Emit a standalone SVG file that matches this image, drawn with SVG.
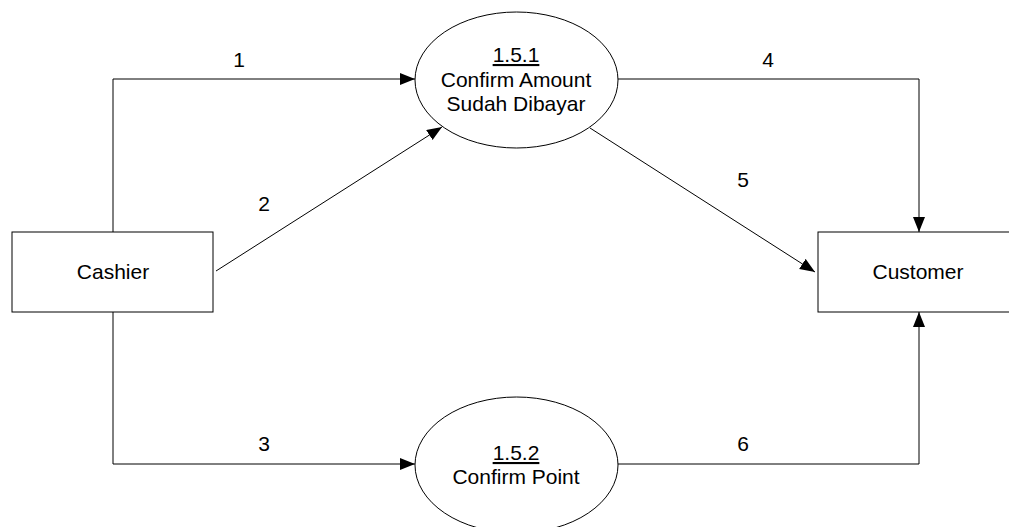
<svg xmlns="http://www.w3.org/2000/svg" width="1009" height="527" viewBox="0 0 1009 527">
<style>
.shape{fill:#fff;stroke:#000;stroke-width:1}
.conn{fill:none;stroke:#000;stroke-width:1}
text{font-family:"Liberation Sans",Arial,sans-serif;font-size:21px;fill:#000;text-anchor:middle}
.ul{text-decoration:underline}
</style>
<defs>
<marker id="arr" markerUnits="userSpaceOnUse" markerWidth="16" markerHeight="13" refX="15" refY="6" orient="auto">
<path d="M0,0 L15,6 L0,12 z" fill="#000"/>
</marker>
</defs>
<rect width="1009" height="527" fill="#fff"/>
<g id="connectors">
<polyline class="conn" points="113,232 113,79 415,79" marker-end="url(#arr)"/>
<line class="conn" x1="216" y1="271" x2="442" y2="127" marker-end="url(#arr)"/>
<polyline class="conn" points="113,312 113,464 415,464" marker-end="url(#arr)"/>
<polyline class="conn" points="618,79 919,79 919,232" marker-end="url(#arr)"/>
<line class="conn" x1="590" y1="128" x2="815" y2="272" marker-end="url(#arr)"/>
<polyline class="conn" points="618,464 919,464 919,312" marker-end="url(#arr)"/>
<text x="239" y="67">1</text>
<text x="264" y="211">2</text>
<text x="264" y="451">3</text>
<text x="768" y="67">4</text>
<text x="743" y="187">5</text>
<text x="743" y="451">6</text>
</g>
<g id="cashier">
<rect class="shape" x="12" y="232" width="201" height="80"/>
<text x="113" y="279">Cashier</text>
</g>
<g id="customer">
<rect class="shape" x="818" y="232" width="200" height="80"/>
<text x="918" y="279">Customer</text>
</g>
<g id="p151">
<ellipse class="shape" cx="516.5" cy="80" rx="101.5" ry="68"/>
<text x="516" y="62" class="ul">1.5.1</text>
<text x="516" y="87">Confirm Amount</text>
<text x="516" y="111">Sudah Dibayar</text>
</g>
<g id="p152">
<ellipse class="shape" cx="516.5" cy="465" rx="101.5" ry="68"/>
<text x="516" y="460" class="ul">1.5.2</text>
<text x="516" y="484">Confirm Point</text>
</g>
</svg>
